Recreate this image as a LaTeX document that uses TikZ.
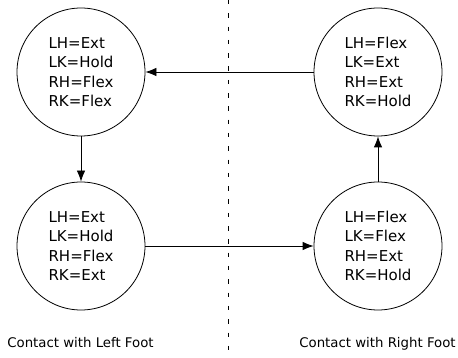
\documentclass[tikz,border=0pt]{standalone}
\usepackage{fontspec}
\setmainfont{DejaVu Sans}
\usetikzlibrary{arrows.meta}
\begin{document}
\begin{tikzpicture}[x=1pt,y=1pt,
  state/.style={draw, line width=0.8pt, circle, minimum size=128pt, inner sep=0pt,
    align=left, font=\fontsize{15}{19.5}\selectfont},
  caption/.style={inner sep=0pt, anchor=base, font=\fontsize{13.3}{16}\selectfont},
  trans/.style={draw, line width=0.8pt, -{Latex[length=11pt,width=8.5pt]}},
  divider/.style={draw, line width=0.8pt, dash pattern=on 4.5pt off 8.8pt}]
  \useasboundingbox (0,0) rectangle (458,-358);

  % phase divider
  \coordinate (dtop) at (228,0);
  \coordinate (dbot) at (228,-358);
  \path[divider] (dtop) -- (dbot);

  % joint states
  \node[state] (tl) at (81,-72)  {LH=Ext\\LK=Hold\\RH=Flex\\RK=Flex};
  \node[state] (tr) at (378,-72) {LH=Flex\\LK=Ext\\RH=Ext\\RK=Hold};
  \node[state] (bl) at (81,-246) {LH=Ext\\LK=Hold\\RH=Flex\\RK=Ext};
  \node[state] (br) at (378,-246) {LH=Flex\\LK=Flex\\RH=Ext\\RK=Hold};

  % transitions
  \path[trans] (tl) -- (bl);
  \path[trans] (bl) -- (br);
  \path[trans] (br) -- (tr);
  \path[trans] (tr) -- (tl);

  % phase captions
  \node[caption] (capl) at (80.5,-347) {Contact with Left Foot};
  \node[caption] (capr) at (377.5,-347) {Contact with Right Foot};
\end{tikzpicture}
\end{document}
